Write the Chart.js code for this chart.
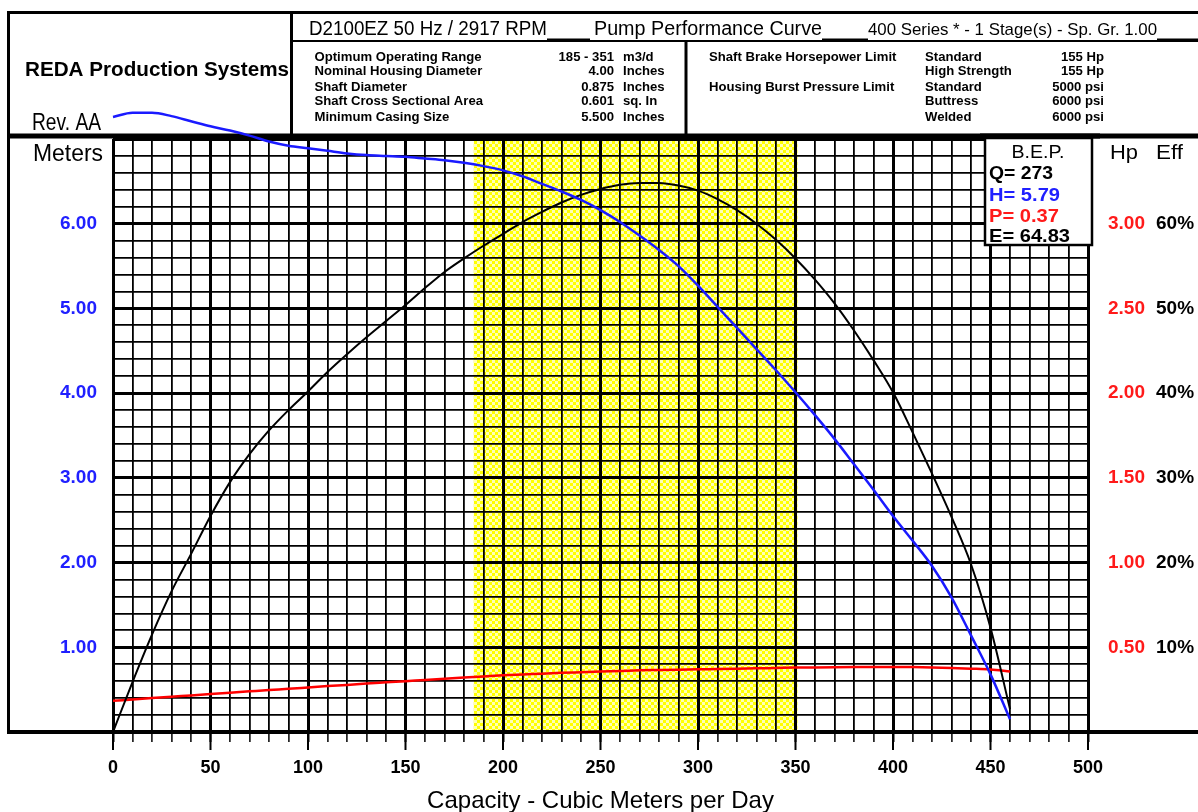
<!DOCTYPE html>
<html>
<head>
<meta charset="utf-8">
<style>
html,body{margin:0;padding:0;background:#fff;}
#wrap{width:1198px;height:812px;position:relative;}
canvas{display:block;}
</style>
<script src="https://cdn.jsdelivr.net/npm/chart.js@4.4.1/dist/chart.umd.min.js"></script>
</head>
<body>
<div id="wrap"><canvas id="c" width="1198" height="812"></canvas></div>
<script>
// ---------------- DATA ----------------
const capacity = [0,10,20,30,40,50,60,70,80,90,100,110,120,130,140,150,160,170,180,190,200,210,220,230,240,250,260,270,280,290,300,310,320,330,340,350,360,370,380,390,400,410,420,430,440,450,460];
const headMeters = [7.26,7.31,7.31,7.27,7.21,7.15,7.10,7.04,6.97,6.92,6.89,6.86,6.83,6.81,6.80,6.79,6.77,6.75,6.72,6.68,6.63,6.56,6.47,6.38,6.28,6.16,6.02,5.86,5.69,5.50,5.27,5.02,4.77,4.52,4.27,4.01,3.74,3.46,3.16,2.86,2.55,2.26,1.96,1.59,1.14,0.68,0.15];
const efficiencyPct = [0,5.9,11.5,16.6,21.0,25.5,29.5,32.8,35.6,38.0,40.2,42.5,44.6,46.6,48.5,50.4,52.4,54.3,55.9,57.4,58.8,60.2,61.4,62.5,63.4,64.1,64.6,64.8,64.8,64.5,63.9,62.9,61.6,60.0,58.1,55.9,53.4,50.6,47.4,43.9,40.1,35.4,30.5,25.4,19.8,12.3,2.7];
const powerHp = [0.184,0.192,0.200,0.208,0.216,0.224,0.232,0.240,0.248,0.255,0.263,0.271,0.278,0.286,0.293,0.300,0.307,0.314,0.321,0.328,0.335,0.340,0.344,0.349,0.353,0.357,0.360,0.364,0.366,0.368,0.370,0.372,0.374,0.376,0.378,0.380,0.381,0.382,0.383,0.384,0.384,0.383,0.381,0.378,0.374,0.369,0.357];

const optimumRange = [185, 351];
const xTickLabels = [0,50,100,150,200,250,300,350,400,450,500];
const headTickValues = [1,2,3,4,5,6];
const headTickLabels = ['1.00','2.00','3.00','4.00','5.00','6.00'];
const hpTickValues = [0.5,1.0,1.5,2.0,2.5,3.0];
const hpTickLabels = ['0.50','1.00','1.50','2.00','2.50','3.00'];
const effTickValues = [10,20,30,40,50,60];
const effTickLabels = ['10%','20%','30%','40%','50%','60%'];

const bepLines = ['Q= 273','H= 5.79','P= 0.37','E= 64.83'];
const specLabels = ['Optimum Operating Range','Nominal Housing Diameter','Shaft Diameter','Shaft Cross Sectional Area','Minimum Casing Size'];
const specValues = ['185 - 351','4.00','0.875','0.601','5.500'];
const specUnits = ['m3/d','Inches','Inches','sq. In','Inches'];
const limitLabels = ['Shaft Brake Horsepower Limit','','Housing Burst Pressure Limit','',''];
const limitTypes = ['Standard','High Strength','Standard','Buttress','Welded'];
const limitValues = ['155 Hp','155 Hp','5000 psi','6000 psi','6000 psi'];

// ---------------- HELPERS ----------------
const FF = "'Liberation Sans', Arial, Helvetica, sans-serif";
function fitText(ctx, text, x, y, w, font, color, align, sxFixed) {
  ctx.save();
  ctx.font = font; ctx.fillStyle = color || '#000';
  ctx.textBaseline = 'alphabetic'; ctx.textAlign = 'left';
  const m = ctx.measureText(text).width;
  const sx = sxFixed ? sxFixed : (w ? w / m : 1);
  const tw = m * sx;
  let x0 = x;
  if (align === 'right') x0 = x - tw;
  else if (align === 'center') x0 = x - tw / 2;
  ctx.translate(x0, y); ctx.scale(sx, 1);
  ctx.fillText(text, 0, 0);
  ctx.restore();
}
function hline(ctx, x1, x2, y, w, c) {
  ctx.save(); ctx.strokeStyle = c || '#000'; ctx.lineWidth = w; ctx.lineCap = 'butt';
  ctx.beginPath(); ctx.moveTo(x1, y); ctx.lineTo(x2, y); ctx.stroke(); ctx.restore();
}
function vline(ctx, x, y1, y2, w, c) {
  ctx.save(); ctx.strokeStyle = c || '#000'; ctx.lineWidth = w; ctx.lineCap = 'butt';
  ctx.beginPath(); ctx.moveTo(x, y1); ctx.lineTo(x, y2); ctx.stroke(); ctx.restore();
}
function makePattern(ctx) {
  const c = document.createElement('canvas'); c.width = 6; c.height = 6;
  const p = c.getContext('2d');
  p.fillStyle = '#ffff00'; p.fillRect(0, 0, 6, 6);
  p.fillStyle = '#ffffb4'; p.fillRect(0, 0, 3, 3); p.fillRect(3, 3, 3, 3);
  return ctx.createPattern(c, 'repeat');
}
function near(list, v) { return list.findIndex(t => Math.abs(t - v) < 1e-6); }
const isMajor = (v, step) => Math.abs(v / step - Math.round(v / step)) < 1e-6;

// ---------------- PLUGIN (frame, header, band, BEP) ----------------
const framePlugin = {
  id: 'frame',
  beforeDraw(chart) {
    const ctx = chart.ctx, ca = chart.chartArea, xs = chart.scales.x;
    ctx.save();
    ctx.fillStyle = '#fff'; ctx.fillRect(0, 0, chart.width, chart.height);
    // optimum operating range band
    const bx1 = xs.getPixelForValue(optimumRange[0]), bx2 = xs.getPixelForValue(optimumRange[1]);
    ctx.fillStyle = makePattern(ctx);
    ctx.fillRect(bx1, ca.top, bx2 - bx1, ca.bottom - ca.top);
    // header frame
    hline(ctx, 7, 1198, 12.5, 3);
    vline(ctx, 8.5, 11, 734, 3);
    vline(ctx, 291.5, 11, 137, 3);
    hline(ctx, 290, 1198, 41, 2);
    hline(ctx, 547, 590, 40, 3);
    hline(ctx, 822, 868, 40, 3);
    hline(ctx, 1157, 1198, 40, 3);
    vline(ctx, 686, 40, 137, 3);
    hline(ctx, 7, 1198, 136, 5);
    // header texts
    fitText(ctx, 'REDA Production Systems', 25, 76, 264, `bold 20px ${FF}`, '#000');
    fitText(ctx, 'Rev. AA', 32, 130, 69, `24px ${FF}`, '#000');
    fitText(ctx, 'D2100EZ 50 Hz / 2917 RPM', 309, 35, 238, `20px ${FF}`, '#000');
    fitText(ctx, 'Pump Performance Curve', 594, 35, 228, `20px ${FF}`, '#000');
    fitText(ctx, '400 Series * - 1 Stage(s) - Sp. Gr. 1.00', 868, 34.5, 289, `17px ${FF}`, '#000');
    const dFont = `bold 12px ${FF}`;
    ctx.font = dFont;
    const sx = 167 / ctx.measureText(specLabels[0]).width;
    const rows = [61, 75, 90.5, 105, 120.5];
    for (let i = 0; i < rows.length; i++) {
      fitText(ctx, specLabels[i], 314.5, rows[i], 0, dFont, '#000', 'left', sx);
      fitText(ctx, specValues[i], 614, rows[i], 0, dFont, '#000', 'right', sx);
      fitText(ctx, specUnits[i], 623, rows[i], 0, dFont, '#000', 'left', sx);
      if (limitLabels[i]) fitText(ctx, limitLabels[i], 709, rows[i], 0, dFont, '#000', 'left', sx);
      fitText(ctx, limitTypes[i], 925, rows[i], 0, dFont, '#000', 'left', sx);
      fitText(ctx, limitValues[i], 1104, rows[i], 0, dFont, '#000', 'right', sx);
    }
    ctx.restore();
  },
  afterDraw(chart) {
    const ctx = chart.ctx, xs = chart.scales.x, ca = chart.chartArea;
    ctx.save();
    hline(ctx, 7, 1198, ca.bottom, 4);
    xTickLabels.forEach(v => vline(ctx, xs.getPixelForValue(v), ca.bottom, ca.bottom + 18, 2));
    fitText(ctx, 'Meters', 33, 161, 70, `23px ${FF}`, '#000');
    fitText(ctx, 'Hp', 1110, 159, 28, `21px ${FF}`, '#000');
    fitText(ctx, 'Eff', 1156, 159, 27, `21px ${FF}`, '#000');
    // BEP box
    ctx.fillStyle = '#fff'; ctx.fillRect(985, 138, 107, 107);
    ctx.strokeStyle = '#000'; ctx.lineWidth = 2.5; ctx.strokeRect(985, 138, 107, 107);
    hline(ctx, 980, 1100, 136, 5);
    fitText(ctx, 'B.E.P.', 1038, 158, 53, `19px ${FF}`, '#000', 'center');
    const bepColors = ['#000', '#2020ff', '#ff1a1a', '#000'];
    const bepBase = [179, 200.5, 221.5, 241.5];
    const bepW = [64, 71, 70, 81];
    for (let i = 0; i < 4; i++) fitText(ctx, bepLines[i], 989, bepBase[i], bepW[i], `bold 18px ${FF}`, bepColors[i]);
    ctx.restore();
  }
};

// ---------------- CHART ----------------
const pts = (ys) => capacity.map((q, i) => ({x: q, y: ys[i]}));
const tickFont = (size) => ({family: FF, size: size, weight: 'bold'});

new Chart(document.getElementById('c'), {
  type: 'line',
  data: {
    datasets: [
      {label: 'Head (m)', data: pts(headMeters), yAxisID: 'y', borderColor: '#1a1aff', borderWidth: 2.5,
       pointRadius: 0, cubicInterpolationMode: 'monotone', clip: false, fill: false},
      {label: 'Efficiency (%)', data: pts(efficiencyPct), yAxisID: 'yEff', borderColor: '#000000', borderWidth: 2,
       pointRadius: 0, cubicInterpolationMode: 'monotone', fill: false},
      {label: 'Power (Hp)', data: pts(powerHp), yAxisID: 'yHp', borderColor: '#ff0000', borderWidth: 2.5,
       pointRadius: 0, cubicInterpolationMode: 'monotone', fill: false}
    ]
  },
  options: {
    responsive: false, animation: false, devicePixelRatio: 1,
    layout: {padding: {top: 139, left: 0, right: 0, bottom: 0}},
    plugins: {legend: {display: false}, tooltip: {enabled: false}},
    scales: {
      x: {
        type: 'linear', position: 'bottom', min: 0, max: 500,
        afterFit(s) { s.height = 80; },
        ticks: {stepSize: 10, autoSkip: false, maxRotation: 0, minRotation: 0, padding: 15, color: '#000',
                font: tickFont(18),
                callback: (v) => xTickLabels.includes(v) ? String(v) : ''},
        grid: {color: '#000', lineWidth: (c) => isMajor(c.tick.value, 50) ? 3 : 1.8,
               drawTicks: true, tickLength: 10, tickColor: '#000',
               tickWidth: (c) => isMajor(c.tick.value, 50) ? 2 : 1.5},
        border: {display: false},
        title: {display: true, text: 'Capacity - Cubic Meters per Day', color: '#000',
                font: {family: FF, size: 24, lineHeight: 0.85}, padding: {top: 0, bottom: 0}}
      },
      y: {
        type: 'linear', position: 'left', min: 0, max: 7,
        afterFit(s) { s.width = 113; },
        ticks: {stepSize: 0.2, autoSkip: false, padding: 16, color: '#2020ff', font: tickFont(19),
                callback: (v) => { const i = near(headTickValues, v); return i >= 0 ? headTickLabels[i] : ''; }},
        grid: {color: '#000', lineWidth: (c) => isMajor(c.tick.value, 1) ? 3 : 1.8, drawTicks: false},
        border: {display: false}
      },
      yHp: {
        type: 'linear', position: 'right', weight: 1, min: 0, max: 3.5,
        afterFit(s) { s.width = 60; },
        ticks: {stepSize: 0.5, autoSkip: false, padding: 20, color: '#ff1a1a', font: tickFont(19),
                callback: (v) => { const i = near(hpTickValues, v); return i >= 0 ? hpTickLabels[i] : ''; }},
        grid: {display: false, drawTicks: false},
        border: {display: false}
      },
      yEff: {
        type: 'linear', position: 'right', weight: 2, min: 0, max: 70,
        afterFit(s) { s.width = 50; },
        ticks: {stepSize: 10, autoSkip: false, padding: 8, color: '#000', font: tickFont(19),
                callback: (v) => { const i = near(effTickValues, v); return i >= 0 ? effTickLabels[i] : ''; }},
        grid: {display: false, drawTicks: false},
        border: {display: false}
      }
    }
  },
  plugins: [framePlugin]
});
</script>
</body>
</html>
